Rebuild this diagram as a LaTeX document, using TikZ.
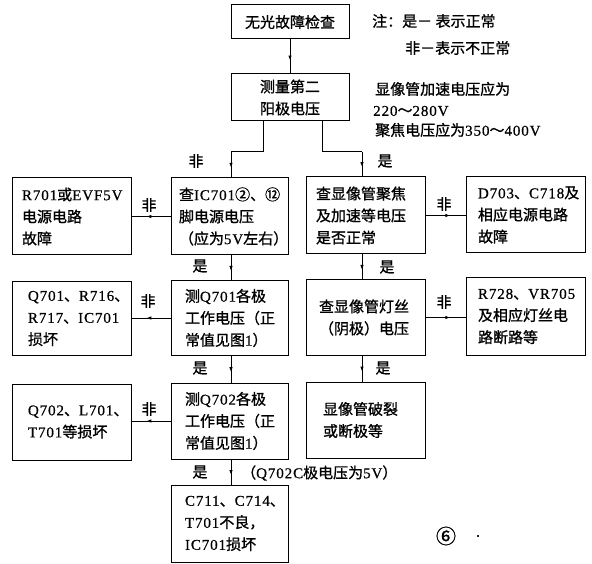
\documentclass[tikz,border=0pt]{standalone}
\usepackage{fontspec}
\setmainfont[FakeBold=1]{Noto Sans CJK SC}
\newfontfamily\latf[LetterSpace=6,FakeBold=0.6]{Liberation Serif}
\newcommand{\Lx}[1]{{\latf #1}}
\usetikzlibrary{decorations.markings,arrows.meta}
\tikzset{
  box/.style={draw, line width=1pt, rectangle, inner sep=0pt, align=left,
    font=\fontsize{15}{22}\selectfont},
  cbox/.style={draw, line width=1pt, rectangle, inner sep=0pt, align=center,
    font=\fontsize{15}{22}\selectfont},
  ln/.style={line width=1pt},
  arr/.style={line width=1pt, postaction={decorate},
    decoration={markings, mark=at position 0.62 with {\arrow{Latex[length=5pt,width=3.5pt]}}}},
  lbl/.style={font=\fontsize{15}{18}\selectfont, inner sep=0pt},
}
\begin{document}
\begin{tikzpicture}[x=1pt,y=-1pt]
\fill[white] (0,0) rectangle (592,564);
\useasboundingbox (0,0) rectangle (592,564);

% top boxes
\node[cbox, minimum width=118pt, minimum height=34pt] (b1) at (290,22) {无光故障检查};
\node[cbox, minimum width=118pt, minimum height=47pt] (b2) at (290,97.5) {测量第二\\阳极电压};

% row 1
\node[box, minimum width=119pt, minimum height=77pt, text width=99pt] (L1) at (71.5,216.5)
  {\Lx{R701}或\Lx{EVF5V}\\电源电路\\故障};
\node[box, minimum width=117pt, minimum height=77pt, text width=101pt] (C1) at (229.5,216.5)
  {查\Lx{IC701}②、⑫\\脚电源电压\\（应为\Lx{5V}左右）};
\node[box, minimum width=119pt, minimum height=77pt, text width=99pt] (R1) at (365.5,215.5)
  {查显像管聚焦\\及加速等电压\\是否正常};
\node[box, minimum width=119pt, minimum height=76pt, text width=95pt] (RR1) at (525.5,215)
  {\Lx{D703}、\Lx{C718}及\\相应电源电路\\故障};

% row 2
\node[box, minimum width=119pt, minimum height=73pt, text width=87pt] (L2) at (71.5,318.5)
  {\Lx{Q701}、\Lx{R716}、\\\Lx{R717}、\Lx{IC701}\\损坏};
\node[box, minimum width=117pt, minimum height=74pt, text width=89pt] (C2) at (229.5,318)
  {测\Lx{Q701}各极\\工作电压（正\\常值见图\Lx{1}）};
\node[box, minimum width=119pt, minimum height=75pt, text width=93pt] (R2) at (365.5,317.5)
  {查显像管灯丝\\（阴极）电压};
\node[box, minimum width=119pt, minimum height=77pt, text width=95pt] (RR2) at (525.5,316.5)
  {\Lx{R728}、\Lx{VR705}\\及相应灯丝电\\路断路等};

% row 3
\node[box, minimum width=119pt, minimum height=76pt, text width=87pt] (L3) at (71.5,422)
  {\Lx{Q702}、\Lx{L701}、\\\Lx{T701}等损坏};
\node[box, minimum width=117pt, minimum height=76pt, text width=89pt] (C3) at (229.5,421)
  {测\Lx{Q702}各极\\工作电压（正\\常值见图\Lx{1}）};
\node[box, minimum width=119pt, minimum height=76pt, text width=85pt] (R3) at (365.5,420)
  {显像管破裂\\或断极等};

% row 4
\node[box, minimum width=117pt, minimum height=77pt, text width=89pt] (C4) at (229.5,523.5)
  {\Lx{C711}、\Lx{C714}、\\\Lx{T701}不良，\\\Lx{IC701}损坏};

% notes
\node[lbl, anchor=west] (n1) at (372,21) {注：是－ 表示正常};
\node[lbl, anchor=west] (n2) at (405,48) {非－表示不正常};
\node[lbl, anchor=west] (n3) at (375,89) {显像管加速电压应为};
\node[lbl, anchor=west] (n4) at (373,111) {\Lx{220}～\Lx{280V}};
\node[lbl, anchor=west] (n5) at (375,130) {聚焦电压应为\Lx{350}～\Lx{400V}};

% coordinates
\coordinate (cx) at (231,0);
\coordinate (rx) at (362,0);
\coordinate (jl) at (263,152);
\coordinate (jr) at (322,152);

% connectors
\draw[arr] (b1) -- (b2);
\draw[ln] (b2.south -| jl) -- (jl) -- (jl -| cx);
\draw[arr] (jl -| cx) -- (C1.north -| cx);
\draw[ln] (b2.south -| jr) -- (jr) -- (jr -| rx);
\draw[arr] (jr -| rx) -- (R1.north -| rx);

\draw[arr] (C1.west) -- (C1.west -| L1.east);
\draw[arr] (C1.south -| cx) -- (C2.north -| cx);
\draw[arr] (C2.west) -- (C2.west -| L2.east);
\draw[arr] (C2.south -| cx) -- (C3.north -| cx);
\draw[arr] (C3.west) -- (C3.west -| L3.east);
\draw[arr] (C3.south -| cx) -- (C4.north -| cx);

\draw[arr] (R1.east) -- (R1.east -| RR1.west);
\draw[arr] (R1.south -| rx) -- (R2.north -| rx);
\draw[arr] (R2.east) -- (R2.east -| RR2.west);
\draw[arr] (R2.south -| rx) -- (R3.north -| rx);

% connector labels
\node[lbl] (t1) at (196,161) {非};
\node[lbl] (t2) at (385,161) {是};
\node[lbl] (t3) at (149,205) {非};
\node[lbl] (t4) at (444,204) {非};
\node[lbl] (t5) at (200,266) {是};
\node[lbl] (t6) at (387,267) {是};
\node[lbl] (t7) at (148,301) {非};
\node[lbl] (t8) at (444,302) {非};
\node[lbl] (t9) at (200,368) {是};
\node[lbl] (t10) at (383,368) {是};
\node[lbl] (t11) at (149,409) {非};
\node[lbl] (t12) at (200,472) {是};
\node[lbl, anchor=west] (t13) at (241,473) {（\Lx{Q702C}极电压为\Lx{5V}）};

% figure number
\node[font=\fontsize{20}{22}\selectfont, inner sep=0pt] (fig) at (446,536) {⑥};
\node[lbl] (dot) at (478,536) {\Lx{.}};
\end{tikzpicture}
\end{document}
